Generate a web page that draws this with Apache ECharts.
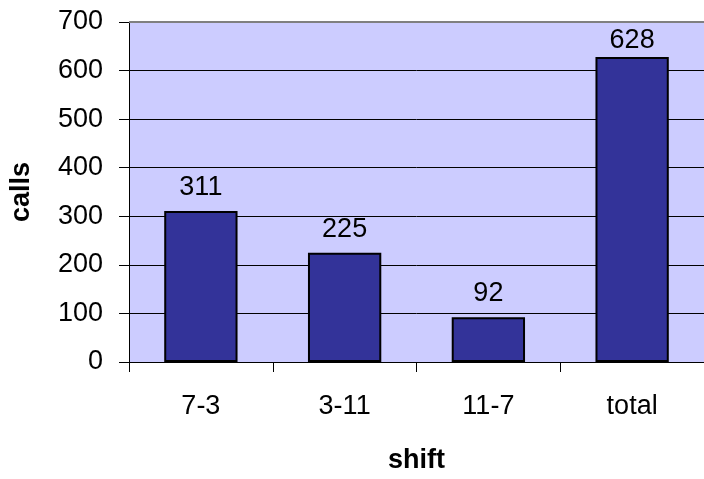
<!DOCTYPE html>
<html><head><meta charset="utf-8">
<script src="https://cdn.jsdelivr.net/npm/echarts@6/dist/echarts.min.js"></script>
<style>html,body{margin:0;padding:0;background:#fff}#c{width:704px;height:479px}</style>
</head><body><div id="c"></div>
<script>
const categories = ['7-3', '3-11', '11-7', 'total'];
const calls = [311, 225, 92, 628];
const yTicks = [0, 100, 200, 300, 400, 500, 600, 700];

const chart = echarts.init(document.getElementById('c'), null, {renderer: 'canvas'});
const font = 'Liberation Sans, Arial, sans-serif';
const barData = calls.map((v, i) => i === calls.length - 1 ? {value: v, label: {distance: 3}} : v);
chart.setOption({
  animation: false,
  grid: {left: 129, right: 0, top: 22, bottom: 114, show: true, backgroundColor: '#CCCCFF', borderWidth: 0},
  graphic: [{type: 'line', z: 10, shape: {x1: 129, y1: 22, x2: 704, y2: 22}, style: {stroke: '#808080', lineWidth: 2}}],
  xAxis: {
    type: 'category', data: categories,
    name: 'shift', nameLocation: 'middle', nameGap: 85,
    nameTextStyle: {fontFamily: font, fontSize: 27, fontWeight: 'bold', color: '#000'},
    axisLine: {lineStyle: {color: '#000', width: 1}},
    axisTick: {show: true, length: 10, lineStyle: {color: '#000'}},
    axisLabel: {fontFamily: font, fontSize: 27, color: '#000', margin: 31}
  },
  yAxis: {
    type: 'value', min: yTicks[0], max: yTicks[yTicks.length - 1], interval: 100,
    name: 'calls', nameLocation: 'middle', nameGap: 94, nameRotate: 90,
    nameTextStyle: {fontFamily: font, fontSize: 27, fontWeight: 'bold', color: '#000'},
    axisLine: {show: true, lineStyle: {color: '#000', width: 1}},
    axisTick: {show: true, length: 10, lineStyle: {color: '#000'}},
    axisLabel: {fontFamily: font, fontSize: 27, color: '#000', margin: 26},
    splitLine: {show: true, lineStyle: {color: '#000', width: 1}}
  },
  series: [{
    type: 'bar', data: barData, barWidth: '51%',
    itemStyle: {color: '#333399', borderColor: '#000', borderWidth: 2},
    label: {show: true, position: 'top', distance: 10, fontFamily: font, fontSize: 27, color: '#000'}
  }]
});
</script></body></html>
